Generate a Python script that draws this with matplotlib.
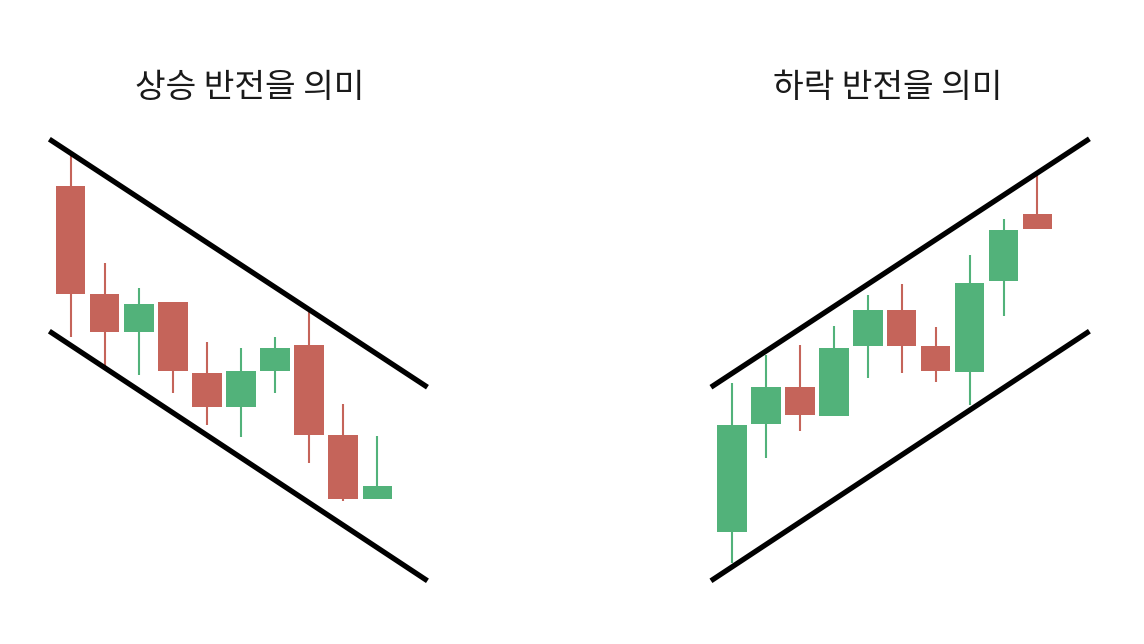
import matplotlib.pyplot as plt

plt.rcParams['font.family'] = ['Noto Sans CJK KR', 'DejaVu Sans']

RED = '#c5645a'
GREEN = '#52b27a'

# left panel: falling channel (bullish reversal)
left_title = '상승 반전을 의미'
left_open = [114.5, 87.4, 78.1, 85.4, 67.7, 59.3, 68.3, 74.8, 52.2, 36.2]
left_high = [122.3, 95.2, 88.9, 85.4, 75.6, 73.9, 76.7, 83.1, 59.9, 52.1]
left_low = [76.8, 69.2, 67.3, 62.7, 54.7, 51.7, 62.7, 45.2, 35.8, 36.2]
left_close = [87.5, 78.1, 85.0, 68.3, 59.3, 68.2, 74.1, 52.3, 36.2, 39.5]
left_upper_x = [-0.62, 10.47]
left_upper_y = [126.2, 64.2]
left_lower_x = [-0.62, 10.47]
left_lower_y = [78.2, 15.8]

# right panel: rising channel (bearish reversal)
right_title = '하락 반전을 의미'
right_open = [27.9, 55.0, 64.3, 57.0, 74.6, 83.4, 74.4, 67.9, 90.8, 107.4]
right_high = [65.2, 72.2, 74.8, 79.5, 87.3, 90.0, 79.3, 97.2, 106.2, 117.4]
right_low = [20.2, 46.6, 53.3, 57.0, 66.4, 67.7, 65.4, 59.8, 82.1, 103.7]
right_close = [54.8, 64.3, 57.3, 74.1, 83.4, 74.6, 68.3, 90.2, 103.5, 103.7]
right_upper_x = [-0.62, 10.53]
right_upper_y = [64.2, 126.3]
right_lower_x = [-0.62, 10.53]
right_lower_y = [15.8, 78.2]


def candles(ax, o, h, l, c):
    for i in range(len(o)):
        col = GREEN if c[i] >= o[i] else RED
        ax.vlines(i, l[i], h[i], color=col, lw=1.5, zorder=2)
        lo, hi = min(o[i], c[i]), max(o[i], c[i])
        ax.bar(i, hi - lo, bottom=lo, width=0.87, color=col, zorder=3)


fig = plt.figure(figsize=(11.44, 6.44), dpi=100)
fig.patch.set_facecolor('white')

ax1 = fig.add_axes([0, 0, 0.5, 1])
ax2 = fig.add_axes([0.5, 0, 0.5, 1])

candles(ax1, left_open, left_high, left_low, left_close)
ax1.plot(left_upper_x, left_upper_y, color='black', lw=3.8, solid_capstyle='butt')
ax1.plot(left_lower_x, left_lower_y, color='black', lw=3.8, solid_capstyle='butt')
ax1.set_xlim(-2.068, 14.71)
ax1.set_ylim(0, 161)

candles(ax2, right_open, right_high, right_low, right_close)
ax2.plot(right_upper_x, right_upper_y, color='black', lw=3.8, solid_capstyle='butt')
ax2.plot(right_lower_x, right_lower_y, color='black', lw=3.8, solid_capstyle='butt')
ax2.set_xlim(-4.714, 12.139)
ax2.set_ylim(0, 161)

for ax in (ax1, ax2):
    ax.axis('off')

fig.text(250 / 1144, 1 - 87 / 644, left_title, ha='center', va='center',
         fontsize=24, color='#1a1a1a')
fig.text(888 / 1144, 1 - 87 / 644, right_title, ha='center', va='center',
         fontsize=24, color='#1a1a1a')

fig.savefig('out.png', dpi=100)
